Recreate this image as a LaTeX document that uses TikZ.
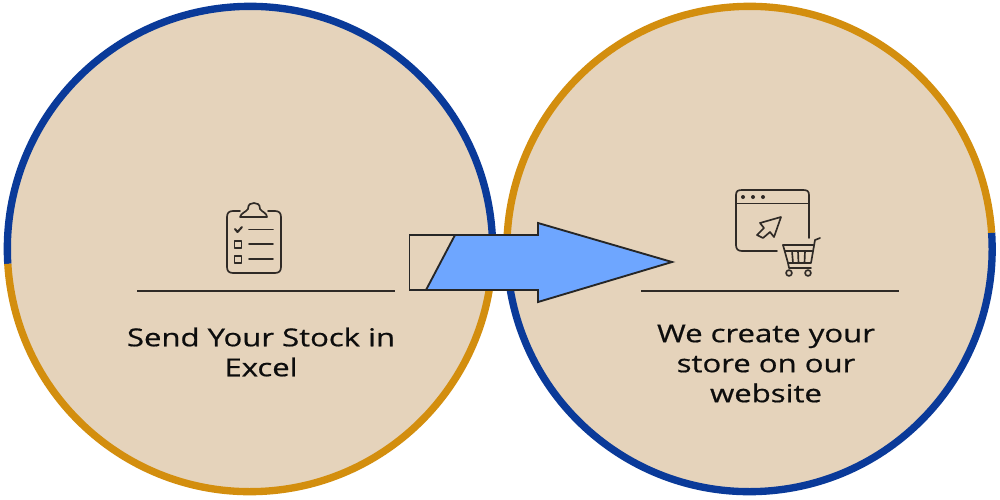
\documentclass[tikz,border=0pt]{standalone}
\usepackage{fontspec}
\setmainfont{Open Sans}
\newfontfamily\capfont[FakeBold=0.6]{Open Sans}
\definecolor{disc}{HTML}{E5D3BB}
\definecolor{ringblue}{HTML}{0A3A99}
\definecolor{ringgold}{HTML}{D38E0E}
\definecolor{arrowblue}{HTML}{6EA6FF}
\definecolor{ink}{HTML}{2F2A26}
\tikzset{
  ring/.style={line width=5.5pt},
  rulel/.style={draw=ink,line width=0.9pt},
  icon/.style={draw=ink,line width=1.25pt,line cap=round,line join=round},
  outline/.style={draw=black!85,line width=1.4pt,line join=miter},
  captext/.style={font=\capfont\fontsize{18.5}{22.5}\selectfont,align=center,text=black!95,inner sep=0pt,xscale=1.26}
}
\begin{document}
\begin{tikzpicture}[x=0.75pt,y=-0.75pt]
\useasboundingbox (0,0) rectangle (1000,500);
\fill[white] (0,0) rectangle (1000,500);
% discs
\coordinate (cl) at (250,249);
\coordinate (cr) at (749.5,249);
\fill[disc] (cl) circle[radius=182pt];
\fill[disc] (cr) circle[radius=182pt];
\draw[ring,ringblue] (cl) ++(183.5:182pt) arc[start angle=183.5,end angle=3.5,radius=182pt];
\draw[ring,ringgold] (cl) ++(183.5:182pt) arc[start angle=183.5,end angle=363.5,radius=182pt];
\draw[ring,ringgold] (cr) ++(3.8:182pt) arc[start angle=3.8,end angle=183.8,radius=182pt];
\draw[ring,ringblue] (cr) ++(3.8:182pt) arc[start angle=3.8,end angle=-176.2,radius=182pt];
% rules
\coordinate (r1a) at (137,291); \coordinate (r1b) at (395,291);
\coordinate (r2a) at (641,291); \coordinate (r2b) at (899,291);
\draw[rulel] (r1a) -- (r1b);
\draw[rulel] (r2a) -- (r2b);
% captions
\node[captext] (t1) at (261,352) {Send Your Stock in\\Excel};
\node[captext] (t2) at (766,363.5) {We create your\\store on our\\website};
% arrow
\draw[outline,fill=disc] (409.5,235) rectangle (455,290);
\fill[arrowblue] (455,235) -- (538,235) -- (538,223) -- (672,262) -- (538,302) -- (538,290) -- (426,290) -- cycle;
\draw[outline] (426,290) -- (455,235) -- (538,235) -- (538,223) -- (672,262) -- (538,302) -- (538,290) -- (426,290);
% clipboard icon
\begin{scope}[shift={(200,190)}]
\draw[icon] (40,21) -- (33,21) .. controls (29,21) and (27,23) .. (27,27) -- (27,77) .. controls (27,81) and (29,83) .. (33,83) -- (75,83) .. controls (79,83) and (81,81) .. (81,77) -- (81,27) .. controls (81,23) and (79,21) .. (75,21) -- (68,21);
\draw[icon] (40,27) -- (67,27) .. controls (67,23) and (62,22) .. (60,19) .. controls (60,14) and (57,13) .. (54,13) .. controls (51,13) and (48,14) .. (48,19) .. controls (46,22) and (41,23) .. (40,27) -- cycle;
\draw[icon,line width=1.5pt] (35,39) -- (37.5,42) -- (42,37);
\draw[icon] (49,39.5) -- (73,39.5);
\draw[icon,line width=1.4pt] (34.5,51) rectangle (41.5,58);
\draw[icon] (49,54) -- (73,54);
\draw[icon,line width=1.4pt] (34.5,66) rectangle (41.5,73);
\draw[icon] (49,69) -- (73,69);
\end{scope}
% browser and cart icon
\begin{scope}[shift={(720,175)}]
\draw[icon] (16,70) .. controls (16,74) and (18,76) .. (22,76) -- (57,76);
\draw[icon] (16,70) -- (16,20) .. controls (16,16) and (18,15) .. (22,15) -- (83,15) .. controls (87,15) and (89,16) .. (89,20) -- (89,63);
\draw[icon] (16,28.5) -- (89,28.5);
\fill[ink] (23,22) circle[radius=1.5pt] (33,22) circle[radius=1.5pt] (43,22) circle[radius=1.5pt];
\draw[icon] (61,42) -- (40,48) -- (44,53) -- (37,60) -- (43,63) -- (50,57) -- (54,62) -- cycle;
\draw[icon] (100,63) -- (95,65) -- (91,88) -- (68,88);
\draw[icon] (63,70) -- (93.5,70);
\draw[icon] (63,70) -- (68,88) -- (69,93) -- (91,93);
\draw[icon] (72,76) -- (73,88) (78,76) -- (78.5,88) (85,76) -- (84.5,88);
\draw[icon] (65,76) -- (92.5,76);
\draw[icon] (69,98) circle[radius=2.2pt] (88,98) circle[radius=2.2pt];
\end{scope}
\end{tikzpicture}
\end{document}
